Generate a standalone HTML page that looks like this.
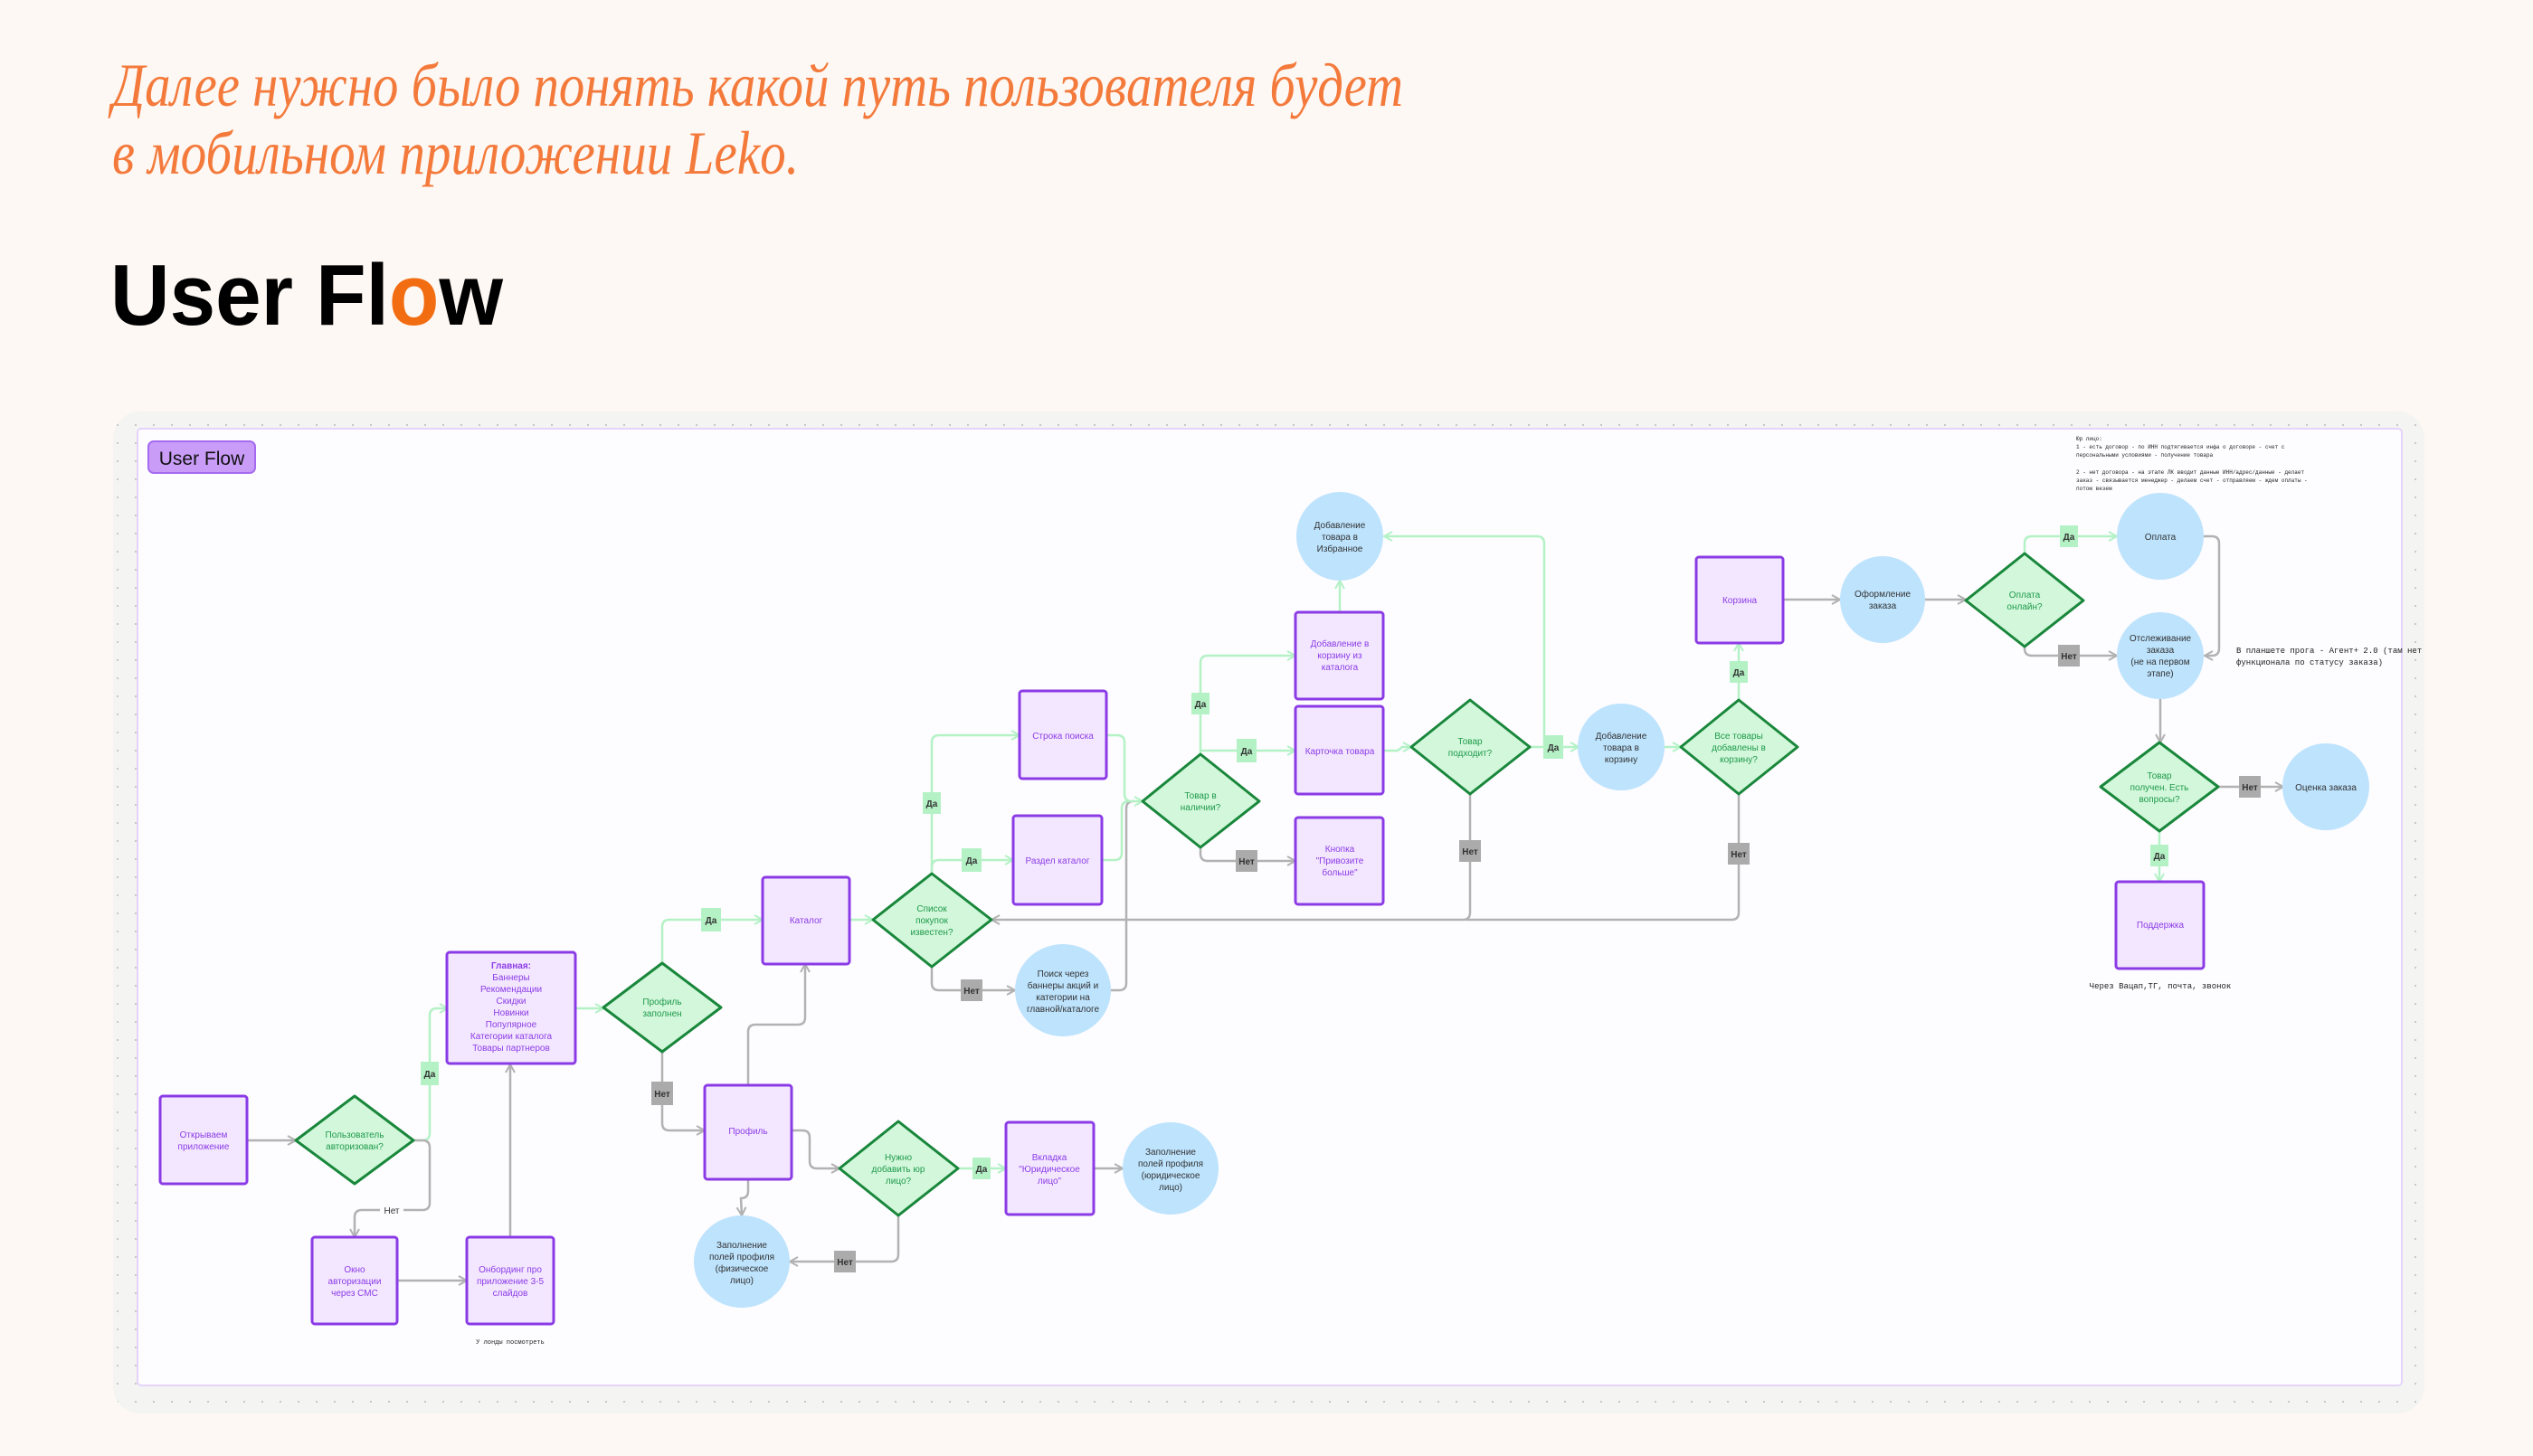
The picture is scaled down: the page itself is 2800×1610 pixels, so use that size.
<!DOCTYPE html>
<html><head><meta charset="utf-8"><style>
html,body{margin:0;padding:0;background:#fdf8f4;}
svg{display:block}
.r{fill:#f3e7ff;stroke:#8b3be6;stroke-width:3}
.d{fill:#d2f7da;stroke:#19873b;stroke-width:3;stroke-linejoin:round}
.c{fill:#bde3fd}
.rt{font-family:"Liberation Sans",sans-serif;font-size:10px;fill:#8b3be6;text-anchor:middle}
.dt{font-family:"Liberation Sans",sans-serif;font-size:10px;fill:#1f9a4b;text-anchor:middle}
.ct{font-family:"Liberation Sans",sans-serif;font-size:10px;fill:#333;text-anchor:middle}
.g{fill:none;stroke:#b4f2c6;stroke-width:2.5;marker-end:url(#ag)}
.k{fill:none;stroke:#b2b2b2;stroke-width:2.5;marker-end:url(#ak)}
.gn{fill:none;stroke:#b4f2c6;stroke-width:2.5}
.kn{fill:none;stroke:#b2b2b2;stroke-width:2.5}
.ly{fill:#b4f2c6}
.ln{fill:#ababab}
.lt{font-family:"Liberation Sans",sans-serif;font-size:10px;font-weight:bold;fill:#333;text-anchor:middle}
.mono{font-family:"Liberation Mono",monospace;fill:#222}
</style></head><body>
<svg width="2800" height="1610" viewBox="0 0 2800 1610" xmlns="http://www.w3.org/2000/svg">
<defs>
<marker id="ag" viewBox="0 0 12 12" refX="11" refY="6" markerWidth="12" markerHeight="12" markerUnits="userSpaceOnUse" orient="auto"><path d="M2 1 L11 6 L2 11" fill="none" stroke="#b4f2c6" stroke-width="2"/></marker>
<marker id="ak" viewBox="0 0 12 12" refX="11" refY="6" markerWidth="12" markerHeight="12" markerUnits="userSpaceOnUse" orient="auto"><path d="M2 1 L11 6 L2 11" fill="none" stroke="#b2b2b2" stroke-width="2"/></marker>
<pattern id="dots" width="20" height="20" patternUnits="userSpaceOnUse"><rect x="9" y="9" width="2" height="2" fill="#c8c8c8"/></pattern>
</defs>
<rect width="2800" height="1610" fill="#fdf8f4"/>
<text x="124" y="117" font-family="'Liberation Serif',serif" font-style="italic" font-size="68" fill="#f47a3c" textLength="1427" lengthAdjust="spacingAndGlyphs">Далее нужно было понять какой путь пользователя будет</text>
<text x="124" y="192" font-family="'Liberation Serif',serif" font-style="italic" font-size="68" fill="#f47a3c" textLength="759" lengthAdjust="spacingAndGlyphs">в мобильном приложении Leko.</text>
<text x="122" y="359" font-family="'Liberation Sans',sans-serif" font-weight="bold" font-size="96" fill="#000" textLength="434" lengthAdjust="spacingAndGlyphs">User Fl<tspan fill="#f26d12">o</tspan>w</text>

<rect x="125" y="455" width="2555" height="1108" rx="30" fill="#f4f4f2"/>
<rect x="125" y="455" width="2555" height="1108" rx="30" fill="url(#dots)"/>
<rect x="152" y="474" width="2503" height="1058" rx="4" fill="#fdfcff" stroke="#e4d4fb" stroke-width="2"/>
<rect x="164" y="488" width="118" height="35" rx="6" fill="#c99cf8" stroke="#a56af0" stroke-width="2"/>
<text x="223" y="514" font-family="'Liberation Sans',sans-serif" font-size="21" fill="#111" text-anchor="middle">User Flow</text>

<!-- connectors -->
<path class="k" d="M273 1261 H327"/>
<path class="g" d="M457 1261 H467 Q475 1261 475 1253 V1123 Q475 1115 483 1115 H495"/>
<path class="k" d="M457 1261 H467 Q475 1261 475 1269 V1330 Q475 1338 467 1338 H400 Q392 1338 392 1346 V1368"/>
<rect x="420" y="1330" width="26" height="16" fill="#fdfcff"/>
<text x="433" y="1342" class="ct" fill="#555">Нет</text>
<path class="k" d="M439 1416 H516"/>
<path class="k" d="M564 1368 V1177"/>
<path class="g" d="M636 1115 H667"/>
<path class="g" d="M732 1065 V1025 Q732 1017 740 1017 H843"/>
<path class="k" d="M732 1163 V1242 Q732 1250 740 1250 H779"/>
<path class="k" d="M827 1200 V1141 Q827 1133 835 1133 H882 Q890 1133 890 1125 V1066"/>
<path class="g" d="M939 1017 H965"/>
<path class="g" d="M1030 966 V959 Q1030 951 1038 951 H1120"/>
<path class="g" d="M1030 966 V821 Q1030 813 1038 813 H1127"/>
<path class="k" d="M1030 1069 V1087 Q1030 1095 1038 1095 H1122"/>
<path class="kn" d="M1228 1095 H1237 Q1245 1095 1245 1087 V894 Q1245 886 1253 886"/>
<path class="g" d="M1223 813 H1235 Q1243 813 1243 821 V878 Q1243 886 1251 886 H1263"/>
<path class="gn" d="M1218 951 H1232 Q1240 951 1240 943 V894 Q1240 886 1248 886"/>
<path class="g" d="M1327 834 V830 H1432"/>
<path class="g" d="M1327 830 V733 Q1327 725 1335 725 H1432"/>
<path class="k" d="M1327 937 V944 Q1327 952 1335 952 H1432"/>
<path class="g" d="M1529 830 H1545 L1550 826 H1560"/>
<path class="g" d="M1481 677 V642"/>
<path class="g" d="M1691 826 H1745"/>
<path class="g" d="M1707 826 V601 Q1707 593 1699 593 H1530"/>
<path class="k" d="M1625 878 V1009 Q1625 1017 1617 1017 H1096"/>
<path class="g" d="M1840 826 H1858"/>
<path class="g" d="M1922 774 V711"/>
<path class="kn" d="M1922 878 V1009 Q1922 1017 1914 1017 H1620"/>
<path class="k" d="M1971 663 H2034"/>
<path class="k" d="M2128 663 H2173"/>
<path class="g" d="M2238 612 V601 Q2238 593 2246 593 H2340"/>
<path class="k" d="M2238 715 V717 Q2238 725 2246 725 H2340"/>
<path class="k" d="M2436 593 H2445 Q2453 593 2453 601 V717 Q2453 725 2445 725 H2437"/>
<path class="k" d="M2388 773 V821"/>
<path class="k" d="M2452 870 H2524"/>
<path class="g" d="M2387 919 V975"/>
<path class="k" d="M875 1250 H887 Q895 1250 895 1258 V1284 Q895 1292 903 1292 H928"/>
<path class="g" d="M1059 1292 H1112"/>
<path class="k" d="M1209 1292 H1241"/>
<path class="k" d="M993 1344 V1387 Q993 1395 985 1395 H873"/>
<path class="k" d="M827 1304 V1317 Q827 1325 819 1325 L820 1344"/>

<!-- labels -->
<g>
<rect class="ly" x="465" y="1174" width="20" height="26"/><text class="lt" x="475" y="1191">Да</text>
<rect class="ly" x="775" y="1004" width="22" height="26"/><text class="lt" x="786" y="1021">Да</text>
<rect class="ln" x="720" y="1196" width="24" height="26"/><text class="lt" x="732" y="1213">Нет</text>
<rect class="ly" x="1063" y="938" width="22" height="26"/><text class="lt" x="1074" y="955">Да</text>
<rect class="ly" x="1020" y="876" width="20" height="24"/><text class="lt" x="1030" y="892">Да</text>
<rect class="ln" x="1062" y="1083" width="24" height="24"/><text class="lt" x="1074" y="1099">Нет</text>
<rect class="ly" x="1367" y="817" width="22" height="26"/><text class="lt" x="1378" y="834">Да</text>
<rect class="ly" x="1317" y="766" width="20" height="24"/><text class="lt" x="1327" y="782">Да</text>
<rect class="ln" x="1366" y="940" width="24" height="24"/><text class="lt" x="1378" y="956">Нет</text>
<rect class="ly" x="1706" y="813" width="22" height="26"/><text class="lt" x="1717" y="830">Да</text>
<rect class="ln" x="1613" y="929" width="24" height="24"/><text class="lt" x="1625" y="945">Нет</text>
<rect class="ly" x="1912" y="731" width="20" height="24"/><text class="lt" x="1922" y="747">Да</text>
<rect class="ln" x="1910" y="932" width="24" height="24"/><text class="lt" x="1922" y="948">Нет</text>
<rect class="ly" x="2277" y="581" width="20" height="24"/><text class="lt" x="2287" y="597">Да</text>
<rect class="ln" x="2275" y="713" width="24" height="24"/><text class="lt" x="2287" y="729">Нет</text>
<rect class="ln" x="2475" y="858" width="24" height="24"/><text class="lt" x="2487" y="874">Нет</text>
<rect class="ly" x="2377" y="934" width="20" height="24"/><text class="lt" x="2387" y="950">Да</text>
<rect class="ly" x="1075" y="1280" width="20" height="24"/><text class="lt" x="1085" y="1296">Да</text>
<rect class="ln" x="922" y="1383" width="24" height="24"/><text class="lt" x="934" y="1399">Нет</text>
</g>

<!-- rects -->
<rect class="r" x="177" y="1212" width="96" height="97" rx="3"/>
<text class="rt" x="225" y="1258">Открываем</text><text class="rt" x="225" y="1271">приложение</text>
<rect class="r" x="345" y="1368" width="94" height="96" rx="3"/>
<text class="rt" x="392" y="1407">Окно</text><text class="rt" x="392" y="1420">авторизации</text><text class="rt" x="392" y="1433">через СМС</text>
<rect class="r" x="516" y="1368" width="96" height="96" rx="3"/>
<text class="rt" x="564" y="1407">Онбординг про</text><text class="rt" x="564" y="1420">приложение 3-5</text><text class="rt" x="564" y="1433">слайдов</text>
<rect class="r" x="494" y="1053" width="142" height="123" rx="3"/>
<text class="rt" x="565" y="1071" font-weight="bold">Главная:</text>
<text class="rt" x="565" y="1084">Баннеры</text><text class="rt" x="565" y="1097">Рекомендации</text><text class="rt" x="565" y="1110">Скидки</text><text class="rt" x="565" y="1123">Новинки</text><text class="rt" x="565" y="1136">Популярное</text><text class="rt" x="565" y="1149">Категории каталога</text><text class="rt" x="565" y="1162">Товары партнеров</text>
<rect class="r" x="843" y="970" width="96" height="96" rx="3"/>
<text class="rt" x="891" y="1021">Каталог</text>
<rect class="r" x="779" y="1200" width="96" height="104" rx="3"/>
<text class="rt" x="827" y="1254">Профиль</text>
<rect class="r" x="1112" y="1241" width="97" height="102" rx="3"/>
<text class="rt" x="1160" y="1283">Вкладка</text><text class="rt" x="1160" y="1296">"Юридическое</text><text class="rt" x="1160" y="1309">лицо"</text>
<rect class="r" x="1127" y="764" width="96" height="97" rx="3"/>
<text class="rt" x="1175" y="817">Строка поиска</text>
<rect class="r" x="1120" y="902" width="98" height="98" rx="3"/>
<text class="rt" x="1169" y="955">Раздел каталог</text>
<rect class="r" x="1432" y="677" width="97" height="96" rx="3"/>
<text class="rt" x="1481" y="715">Добавление в</text><text class="rt" x="1481" y="728">корзину из</text><text class="rt" x="1481" y="741">каталога</text>
<rect class="r" x="1432" y="781" width="97" height="97" rx="3"/>
<text class="rt" x="1481" y="834">Карточка товара</text>
<rect class="r" x="1432" y="904" width="97" height="96" rx="3"/>
<text class="rt" x="1481" y="942">Кнопка</text><text class="rt" x="1481" y="955">"Привозите</text><text class="rt" x="1481" y="968">больше"</text>
<rect class="r" x="1875" y="616" width="96" height="95" rx="3"/>
<text class="rt" x="1923" y="667">Корзина</text>
<rect class="r" x="2339" y="975" width="97" height="96" rx="3"/>
<text class="rt" x="2388" y="1026">Поддержка</text>

<!-- diamonds -->
<polygon class="d" points="392,1212 457,1261 392,1309 327,1261"/>
<text class="dt" x="392" y="1258">Пользователь</text><text class="dt" x="392" y="1271">авторизован?</text>
<polygon class="d" points="732,1065 797,1114 732,1163 667,1114"/>
<text class="dt" x="732" y="1111">Профиль</text><text class="dt" x="732" y="1124">заполнен</text>
<polygon class="d" points="1030,966 1096,1017 1030,1069 965,1017"/>
<text class="dt" x="1030" y="1008">Список</text><text class="dt" x="1030" y="1021">покупок</text><text class="dt" x="1030" y="1034">известен?</text>
<polygon class="d" points="993,1240 1059,1292 993,1344 928,1292"/>
<text class="dt" x="993" y="1283">Нужно</text><text class="dt" x="993" y="1296">добавить юр</text><text class="dt" x="993" y="1309">лицо?</text>
<polygon class="d" points="1327,834 1392,886 1327,937 1263,886"/>
<text class="dt" x="1327" y="883">Товар в</text><text class="dt" x="1327" y="896">наличии?</text>
<polygon class="d" points="1625,774 1691,826 1625,878 1560,826"/>
<text class="dt" x="1625" y="823">Товар</text><text class="dt" x="1625" y="836">подходит?</text>
<polygon class="d" points="1922,774 1987,826 1922,878 1858,826"/>
<text class="dt" x="1922" y="817">Все товары</text><text class="dt" x="1922" y="830">добавлены в</text><text class="dt" x="1922" y="843">корзину?</text>
<polygon class="d" points="2238,612 2303,664 2238,715 2173,664"/>
<text class="dt" x="2238" y="661">Оплата</text><text class="dt" x="2238" y="674">онлайн?</text>
<polygon class="d" points="2387,821 2452,870 2387,919 2322,870"/>
<text class="dt" x="2387" y="861">Товар</text><text class="dt" x="2387" y="874">получен. Есть</text><text class="dt" x="2387" y="887">вопросы?</text>

<!-- circles -->
<ellipse class="c" cx="1481" cy="593" rx="48" ry="49"/>
<text class="ct" x="1481" y="584">Добавление</text><text class="ct" x="1481" y="597">товара в</text><text class="ct" x="1481" y="610">Избранное</text>
<ellipse class="c" cx="1792" cy="826" rx="48" ry="48"/>
<text class="ct" x="1792" y="817">Добавление</text><text class="ct" x="1792" y="830">товара в</text><text class="ct" x="1792" y="843">корзину</text>
<ellipse class="c" cx="1175" cy="1095" rx="53" ry="51"/>
<text class="ct" x="1175" y="1080">Поиск через</text><text class="ct" x="1175" y="1093">баннеры акций и</text><text class="ct" x="1175" y="1106">категории на</text><text class="ct" x="1175" y="1119">главной/каталоге</text>
<ellipse class="c" cx="1294" cy="1292" rx="53" ry="51"/>
<text class="ct" x="1294" y="1277">Заполнение</text><text class="ct" x="1294" y="1290">полей профиля</text><text class="ct" x="1294" y="1303">(юридическое</text><text class="ct" x="1294" y="1316">лицо)</text>
<ellipse class="c" cx="820" cy="1395" rx="53" ry="51"/>
<text class="ct" x="820" y="1380">Заполнение</text><text class="ct" x="820" y="1393">полей профиля</text><text class="ct" x="820" y="1406">(физическое</text><text class="ct" x="820" y="1419">лицо)</text>
<ellipse class="c" cx="2081" cy="663" rx="47" ry="48"/>
<text class="ct" x="2081" y="660">Оформление</text><text class="ct" x="2081" y="673">заказа</text>
<ellipse class="c" cx="2388" cy="593" rx="48" ry="48"/>
<text class="ct" x="2388" y="597">Оплата</text>
<ellipse class="c" cx="2388" cy="725" rx="48" ry="48"/>
<text class="ct" x="2388" y="709">Отслеживание</text><text class="ct" x="2388" y="722">заказа</text><text class="ct" x="2388" y="735">(не на первом</text><text class="ct" x="2388" y="748">этапе)</text>
<ellipse class="c" cx="2571" cy="870" rx="48" ry="48"/>
<text class="ct" x="2571" y="874">Оценка заказа</text>

<!-- notes -->
<text class="mono" x="564" y="1486" font-size="7" text-anchor="middle">У лонды посмотреть</text>
<text class="mono" x="2388" y="1093" font-size="9" text-anchor="middle">Через Вацап,ТГ, почта, звонок</text>
<text class="mono" x="2472" y="722" font-size="9">В планшете прога - Агент+ 2.0 (там нет</text>
<text class="mono" x="2472" y="735" font-size="9">функционала по статусу заказа)</text>
<g class="mono" font-size="6">
<text x="2295" y="487">Юр лицо:</text>
<text x="2295" y="496">1 - есть договор - по ИНН подтягивается инфа о договоре - счет с</text>
<text x="2295" y="505">персональными условиями - получение товара</text>
<text x="2295" y="524">2 - нет договора - на этапе ЛК вводит данные ИНН/адрес/данные - делает</text>
<text x="2295" y="533">заказ - связывается менеджер - делаем счет - отправляем - ждем оплаты -</text>
<text x="2295" y="542">потом везем</text>
</g>
</svg>
</body></html>
